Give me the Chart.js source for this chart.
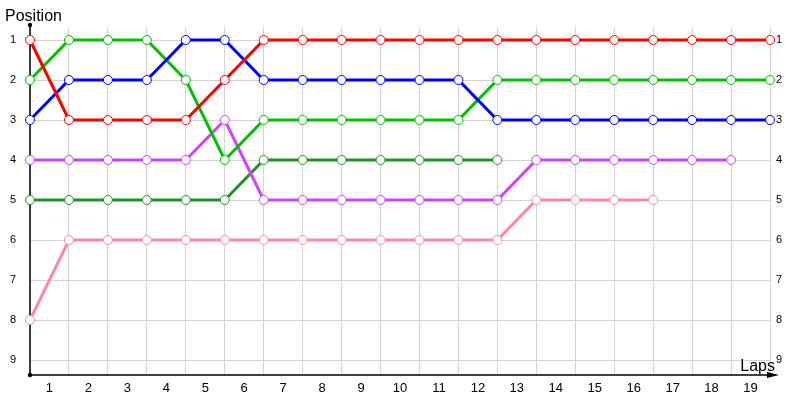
<!DOCTYPE html>
<html>
<head>
<meta charset="utf-8">
<script src="https://cdn.jsdelivr.net/npm/chart.js@4/dist/chart.umd.min.js"></script>
<style>
  html, body { margin: 0; padding: 0; background: #fff; }
  #wrap { width: 800px; height: 400px; }
</style>
</head>
<body>
<div id="wrap"><canvas id="lapChart" width="800" height="400"></canvas></div>
<script>
// lap labels shown between the gridlines, positions are read at each gridline (start + 19 laps)
const lapLabels = ["1","2","3","4","5","6","7","8","9","10","11","12","13","14","15","16","17","18","19"];
const positionTicks = [1, 2, 3, 4, 5, 6, 7, 8, 9];

const red    = [1, 3, 3, 3, 3, 2, 1, 1, 1, 1, 1, 1, 1, 1, 1, 1, 1, 1, 1, 1];
const blue   = [3, 2, 2, 2, 1, 1, 2, 2, 2, 2, 2, 2, 3, 3, 3, 3, 3, 3, 3, 3];
const green  = [2, 1, 1, 1, 2, 4, 3, 3, 3, 3, 3, 3, 2, 2, 2, 2, 2, 2, 2, 2];
const purple = [4, 4, 4, 4, 4, 3, 5, 5, 5, 5, 5, 5, 5, 4, 4, 4, 4, 4, 4];
const dkgreen = [5, 5, 5, 5, 5, 5, 4, 4, 4, 4, 4, 4, 4];
const pink   = [8, 6, 6, 6, 6, 6, 6, 6, 6, 6, 6, 6, 6, 5, 5, 5, 5];

const FONT = "'Liberation Sans', Arial, sans-serif";

function series(vals, color) {
  return {
    data: vals.map((v, i) => ({ x: i, y: v })),
    borderColor: color,
    borderWidth: 3,
    pointRadius: 4.5,
    pointHoverRadius: 4.5,
    pointBackgroundColor: "#ffffff",
    pointBorderColor: color,
    pointBorderWidth: 1,
    tension: 0,
    clip: false,
  };
}

// black axis lines with dots and arrow (under the lines), plus the two axis titles
const axisDeco = {
  id: "axisDeco",
  beforeDatasetsDraw(chart) {
    const c = chart.ctx;
    const a = chart.chartArea;
    c.save();
    c.strokeStyle = "#000";
    c.fillStyle = "#000";
    c.lineWidth = 1.5;
    c.beginPath();
    c.moveTo(a.left, a.top - 2);
    c.lineTo(a.left, a.bottom);
    c.lineTo(a.right + 6, a.bottom);
    c.stroke();
    c.beginPath();
    c.arc(a.left, a.top - 2, 2.2, 0, Math.PI * 2);
    c.fill();
    c.beginPath();
    c.arc(a.left, a.bottom, 2.2, 0, Math.PI * 2);
    c.fill();
    c.beginPath();
    c.moveTo(a.right + 9, a.bottom);
    c.lineTo(a.right - 3, a.bottom - 3);
    c.lineTo(a.right - 3, a.bottom + 3);
    c.closePath();
    c.fill();
    c.restore();
  },
  afterDraw(chart) {
    const c = chart.ctx;
    c.save();
    c.fillStyle = "#000";
    c.font = "16px " + FONT;
    c.textBaseline = "alphabetic";
    c.textAlign = "left";
    c.fillText("Position", 5, 21);
    c.textAlign = "right";
    c.fillText("Laps", 775, 371);
    c.restore();
  }
};

new Chart(document.getElementById("lapChart"), {
  type: "line",
  data: {
    datasets: [
      series(red, "#ff0000"),
      series(blue, "#0000ff"),
      series(green, "#00c000"),
      series(purple, "#cc44ff"),
      series(dkgreen, "#229227"),
      series(pink, "#ff88aa"),
    ],
  },
  plugins: [axisDeco],
  options: {
    responsive: false,
    animation: false,
    devicePixelRatio: 1,
    layout: { padding: { top: 27, left: 0, right: 0, bottom: 0 } },
    plugins: { legend: { display: false }, tooltip: { enabled: false } },
    scales: {
      x: {
        type: "linear",
        min: 0,
        max: 19,
        afterBuildTicks(scale) {
          const t = [];
          for (let i = 0; i <= 38; i++) t.push({ value: i / 2 });
          scale.ticks = t;
        },
        afterFit(scale) { scale.height = 25; },
        border: { display: false },
        grid: {
          drawTicks: false,
          color: (ctx) => (ctx.tick && Number.isInteger(ctx.tick.value) ? "#d4d4d4" : "rgba(0,0,0,0)"),
          lineWidth: 1,
        },
        ticks: {
          autoSkip: false,
          maxRotation: 0,
          padding: 6,
          color: "#000",
          font: { family: FONT, size: 13 },
          callback: (v) => (Number.isInteger(v) ? "" : lapLabels[Math.floor(v)]),
        },
      },
      y: {
        type: "linear",
        position: "left",
        reverse: true,
        min: 0.675,
        max: 9.375,
        afterBuildTicks(scale) { scale.ticks = positionTicks.map((v) => ({ value: v })); },
        afterFit(scale) { scale.width = 30; },
        border: { display: false },
        grid: { drawTicks: false, color: "#d4d4d4", lineWidth: 1 },
        ticks: { autoSkip: false, padding: 14, color: "#000", font: { family: FONT, size: 11 } },
      },
      y2: {
        type: "linear",
        position: "right",
        reverse: true,
        min: 0.675,
        max: 9.375,
        afterBuildTicks(scale) { scale.ticks = positionTicks.map((v) => ({ value: v })); },
        afterFit(scale) { scale.width = 30; },
        border: { display: false },
        grid: { display: false, drawTicks: false },
        ticks: { autoSkip: false, padding: 6, color: "#000", font: { family: FONT, size: 11 } },
      },
    },
  },
});
</script>
</body>
</html>
